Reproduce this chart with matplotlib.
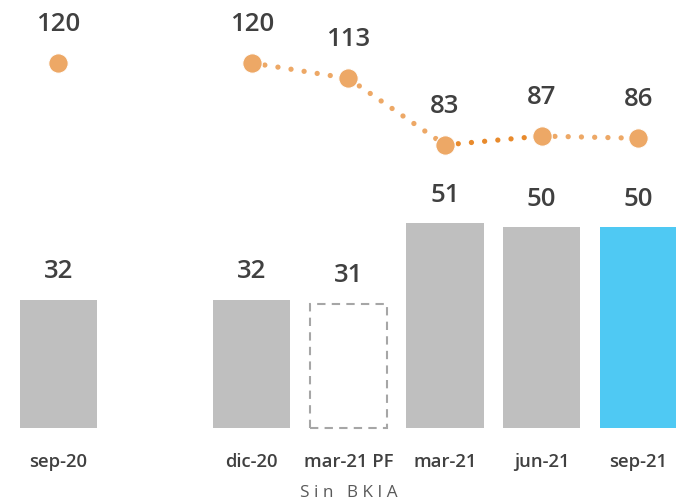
import numpy as np
import matplotlib.pyplot as plt

# =============================================================================

cats    = ["sep-20", "dic-20", "mar-21 PF", "mar-21", "jun-21", "sep-21"]
xpos    = [0, 2, 3, 4, 5, 6]
bars    = [32, 32, 31, 51, 50, 50]
ratio   = [120, 120, 113, 83, 87, 86]

GREY    = "#BFBFBF"
BLUE    = "#4FC9F3"
ORANGE  = "#EDA866"
DORANGE = "#E88A2C"
TXT     = "#404040"

plt.rcParams['font.family'] = ['Open Sans', 'DejaVu Sans']

# =============================================================================

fig = plt.figure(figsize=(6.76, 5.03), dpi=100)
ax  = fig.add_axes([0, 0, 1, 1])
ax2 = ax.twinx()

colors = [GREY, GREY, "none", GREY, GREY, BLUE]
for x, v, c in zip(xpos, bars, colors):
    if c == "none":
        ax.bar(x, v, width=0.8, facecolor="white", edgecolor="#A6A6A6",
               linestyle=(0, (4, 3)), linewidth=1.5)
    else:
        ax.bar(x, v, width=0.8, color=c)
    ax.text(x, v + 7, str(v), ha="center", va="center", fontsize=18.5,
            fontweight="semibold", color=TXT)

# line segments between markers (sep-20 stands alone)
seg_col = [ORANGE, ORANGE, DORANGE, ORANGE]
for i in range(1, len(xpos) - 1):
    ax2.plot(xpos[i:i + 2], ratio[i:i + 2], color=seg_col[i - 1], lw=3.8,
             linestyle=(0, (0.01, 2.5)), dash_capstyle="round", zorder=2)
ax2.plot(xpos, ratio, "o", ms=14, color=ORANGE, mec="white", mew=0.8,
         zorder=3)
for x, v in zip(xpos, ratio):
    ax2.text(x, v + 17.5, str(v), ha="center", va="center", fontsize=18.5,
             fontweight="semibold", color=TXT)

for x, c in zip(xpos, cats):
    ax.text(x, -8.5, c, ha="center", va="center", fontsize=13.3,
            fontweight="semibold", color=TXT)
ax.text(3, -16.0, "S i n   B K I A", ha="center", va="center", fontsize=12.3,
        color="#595959")

ax.set_xlim(-0.605, 6.39)
ax.set_ylim(-18.6, 106.5)
ax2.set_ylim(-78.6, 148.4)
for a in (ax, ax2):
    a.axis("off")

fig.savefig("out.png", dpi=100)
